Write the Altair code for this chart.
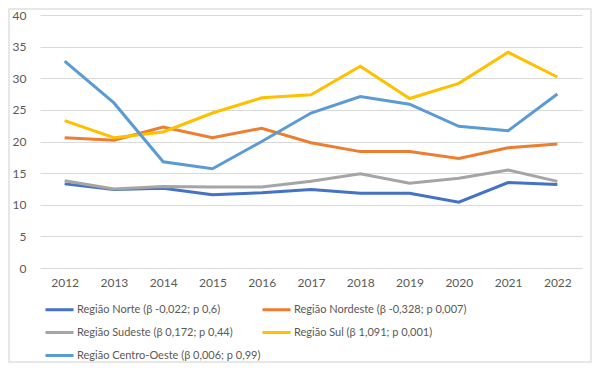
import altair as alt
import pandas as pd

years = ["2012", "2013", "2014", "2015", "2016", "2017", "2018", "2019", "2020", "2021", "2022"]
series_names = [
    "Região Norte (β -0,022; p 0,6)",
    "Região Nordeste (β -0,328; p 0,007)",
    "Região Sudeste (β 0,172; p 0,44)",
    "Região Sul (β 1,091; p 0,001)",
    "Região Centro-Oeste (β 0,006; p 0,99)",
]
norte = [13.3, 12.4, 12.6, 11.6, 11.9, 12.4, 11.8, 11.8, 10.4, 13.5, 13.2]
nordeste = [20.6, 20.2, 22.3, 20.6, 22.1, 19.8, 18.4, 18.4, 17.3, 19.0, 19.6]
sudeste = [13.8, 12.5, 12.9, 12.8, 12.8, 13.7, 14.9, 13.4, 14.2, 15.5, 13.7]
sul = [23.3, 20.6, 21.5, 24.5, 26.9, 27.4, 31.9, 26.8, 29.2, 34.1, 30.2]
centro_oeste = [32.7, 26.1, 16.8, 15.7, 20.0, 24.5, 27.1, 25.9, 22.4, 21.7, 27.5]
colors = ["#4472C4", "#ED7D31", "#A5A5A5", "#FFC000", "#5B9BD5"]

rows = []
for name, vals in zip(series_names, [norte, nordeste, sudeste, sul, centro_oeste]):
    for y, v in zip(years, vals):
        rows.append({"Ano": y, "Região": name, "Valor": v})
df = pd.DataFrame(rows)

FONT = "Lato"
TXT = "#595959"

lines = alt.Chart(df).mark_line(strokeWidth=3).encode(
    x=alt.X("Ano:O", sort=years, scale=alt.Scale(type="point", padding=0.5),
            axis=alt.Axis(title=None, labelAngle=0, ticks=False, domain=False,
                          labelPadding=9, labelFontSize=12, labelColor=TXT, labelFont=FONT)),
    y=alt.Y("Valor:Q", scale=alt.Scale(domain=[0, 40], nice=False),
            axis=alt.Axis(title=None, values=[0, 5, 10, 15, 20, 25, 30, 35, 40], ticks=False,
                          domain=False, labelPadding=14, labelFontSize=12, labelColor=TXT,
                          labelFont=FONT, gridColor="#D9D9D9", gridWidth=1)),
    color=alt.Color("Região:N", sort=series_names,
                    scale=alt.Scale(domain=series_names, range=colors),
                    legend=alt.Legend(title=None, orient="none", legendX=4, legendY=279,
                                      direction="horizontal", columns=2, columnPadding=-8,
                                      rowPadding=1, labelLimit=400,
                                      symbolType="stroke", symbolSize=784,
                                      symbolStrokeWidth=3, labelOffset=2,
                                      labelFontSize=11, labelColor=TXT, labelFont=FONT)),
)

frame = alt.Chart(pd.DataFrame({"a": [0]})).mark_rect(
    fill=None, stroke="#E0E0E0", strokeWidth=1.5
).encode(
    x=alt.value(-31), x2=alt.value(551), y=alt.value(-6), y2=alt.value(347)
)

chart = alt.layer(frame, lines).properties(
    width=542, height=253,
    autosize=alt.AutoSizeParams(type="none"),
    padding={"left": 32, "top": 7, "right": 10, "bottom": 95},
).configure_view(stroke=None)

chart.save("out.html", embed_options={"renderer": "svg", "actions": False})
